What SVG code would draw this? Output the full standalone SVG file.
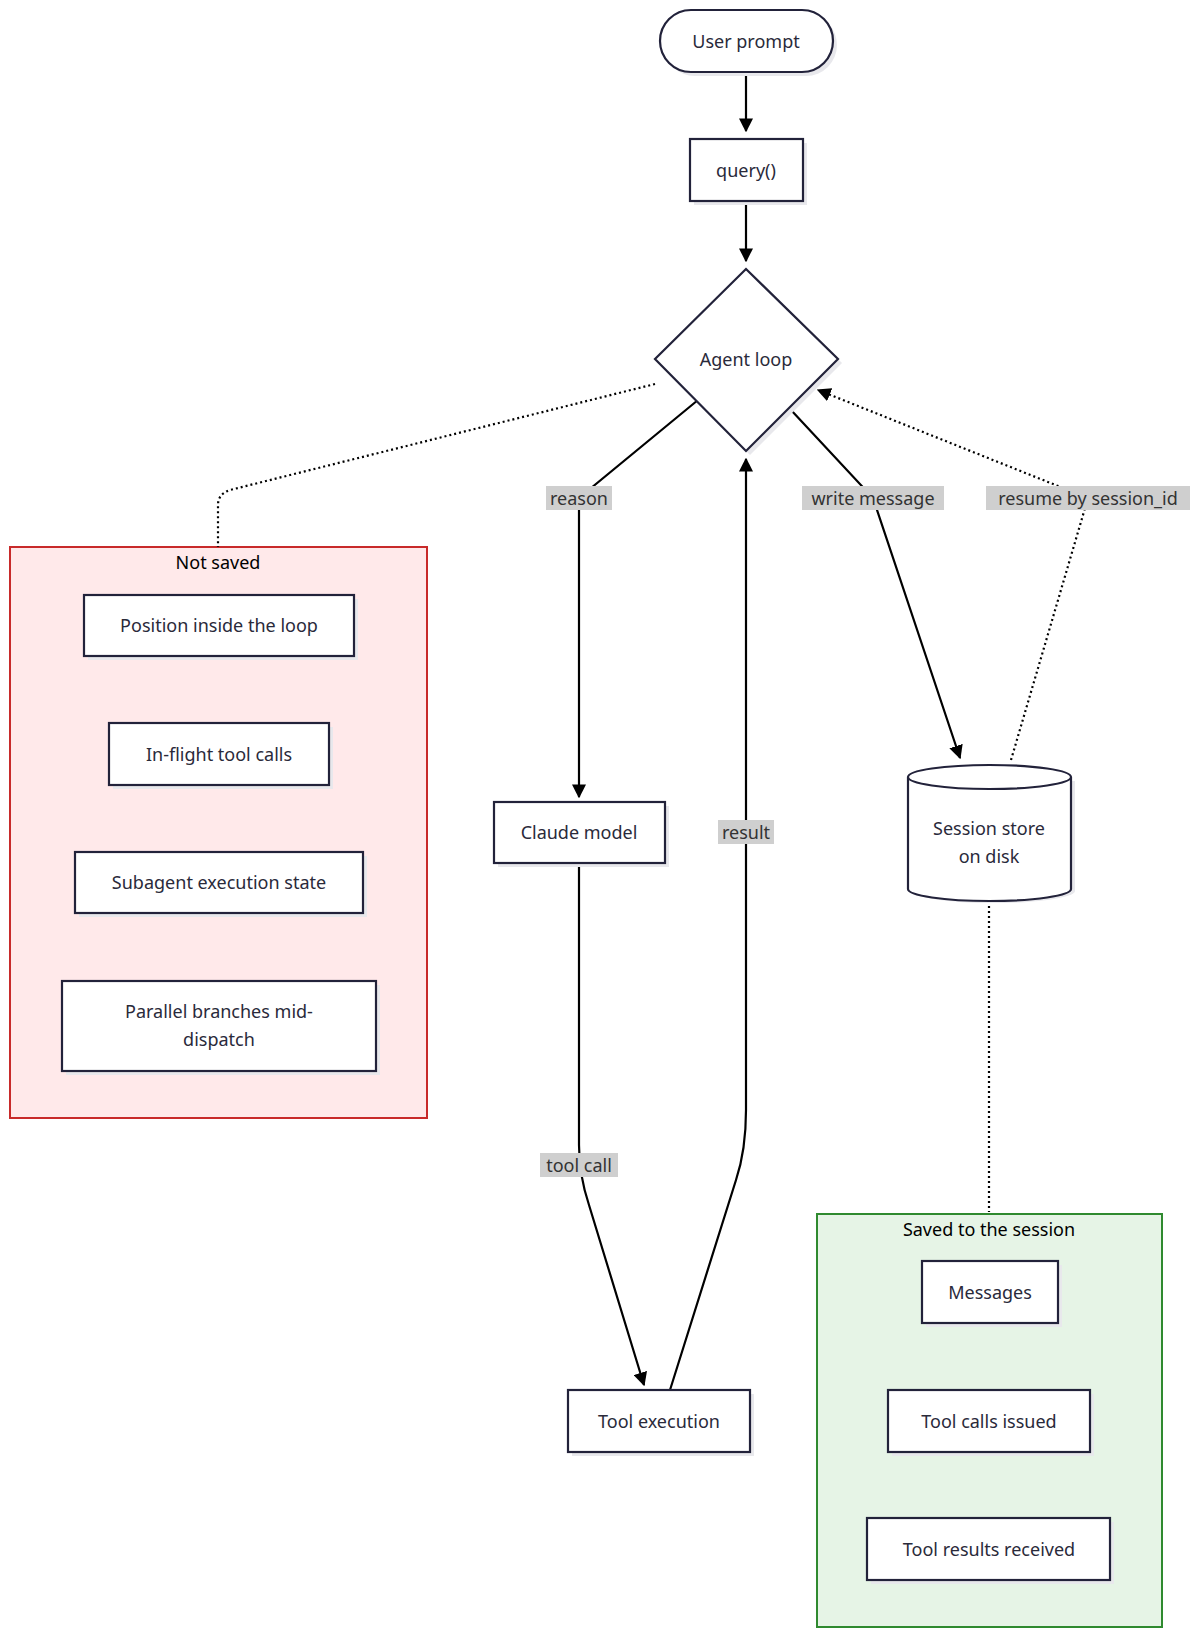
<svg xmlns="http://www.w3.org/2000/svg" width="1200" height="1636" viewBox="0 0 1200 1636">
<style>
text{font-family:"Noto Sans","DejaVu Sans",sans-serif;font-size:18px;fill:#2a2a3a;text-anchor:middle;dominant-baseline:central}
.n{fill:#fff;stroke:#22223a;stroke-width:2.2}
.sh{fill:#e8e8ec}
.e{fill:none;stroke:#000;stroke-width:2.2}
.d{fill:none;stroke:#000;stroke-width:2.2;stroke-dasharray:2 3}
.lb{fill:#cfcfcf}
.lt{fill:#333}
</style>
<defs>
<marker id="a" viewBox="0 0 10 10" refX="9" refY="5" markerWidth="14" markerHeight="14" markerUnits="userSpaceOnUse" orient="auto"><path d="M0,0L10,5L0,10z" fill="#000"/></marker>
</defs>
<g id="notSaved"><rect x="10" y="547" width="417" height="571" fill="#ffe9ea" stroke="#c82a2a" stroke-width="2"/><text x="218" y="562" style="fill:#000">Not saved</text></g>
<g id="saved"><rect x="817" y="1214" width="345" height="413" fill="#e6f4e6" stroke="#2f8a2f" stroke-width="2"/><text x="989" y="1229" style="fill:#000">Saved to the session</text></g>
<g id="edges">
<path class="e" d="M746,72V131" marker-end="url(#a)"/>
<path class="e" d="M746,201V261" marker-end="url(#a)"/>
<path class="e" d="M698,400L579,498V797" marker-end="url(#a)"/>
<path class="e" d="M579,863V1145Q579,1175 589,1205L644,1385" marker-end="url(#a)"/>
<path class="e" d="M670,1390L736,1180Q746,1150 746,1110V459" marker-end="url(#a)"/>
<path class="e" d="M791,410L873,498L960,758" marker-end="url(#a)"/>
<path class="d" d="M1011,760L1088,498L818,390" marker-end="url(#a)"/>
<path class="d" d="M655,384L230,490Q218,494 218,505V547"/>
<path class="d" d="M989,901V1212"/>
</g>
<g id="labels">
<rect class="lb" x="546" y="486" width="66" height="24"/><text class="lt" x="579" y="498">reason</text>
<rect class="lb" x="802" y="486" width="142" height="24"/><text class="lt" x="873" y="498">write message</text>
<rect class="lb" x="986" y="486" width="204" height="24"/><text class="lt" x="1088" y="498">resume by session_id</text>
<rect class="lb" x="718" y="820" width="56" height="24"/><text class="lt" x="746" y="832">result</text>
<rect class="lb" x="540" y="1153" width="78" height="24"/><text class="lt" x="579" y="1165">tool call</text>
</g>
<g id="userPrompt"><rect class="sh" x="664" y="14" width="173" height="62" rx="31"/><rect class="n" x="660" y="10" width="173" height="62" rx="31"/><text x="746" y="41">User prompt</text></g>
<g id="query"><rect class="sh" x="694" y="143" width="113" height="62"/><rect class="n" x="690" y="139" width="113" height="62"/><text x="746" y="170">query()</text></g>
<g id="agentLoop"><path class="sh" d="M750,273L842,363L750,455L659,363z"/><path class="n" d="M746,269L838,359L746,451L655,359z"/><text x="746" y="359">Agent loop</text></g>
<g id="position"><rect class="sh" x="88" y="599" width="270" height="61"/><rect class="n" x="84" y="595" width="270" height="61"/><text x="219" y="625">Position inside the loop</text></g>
<g id="inflight"><rect class="sh" x="113" y="727" width="220" height="62"/><rect class="n" x="109" y="723" width="220" height="62"/><text x="219" y="754">In-flight tool calls</text></g>
<g id="subagent"><rect class="sh" x="79" y="856" width="288" height="61"/><rect class="n" x="75" y="852" width="288" height="61"/><text x="219" y="882">Subagent execution state</text></g>
<g id="parallel"><rect class="sh" x="66" y="985" width="314" height="90"/><rect class="n" x="62" y="981" width="314" height="90"/><text x="219" y="1011">Parallel branches mid-</text><text x="219" y="1039">dispatch</text></g>
<g id="claude"><rect class="sh" x="498" y="806" width="171" height="61"/><rect class="n" x="494" y="802" width="171" height="61"/><text x="579" y="832">Claude model</text></g>
<g id="toolExec"><rect class="sh" x="572" y="1394" width="182" height="62"/><rect class="n" x="568" y="1390" width="182" height="62"/><text x="659" y="1421">Tool execution</text></g>
<g id="session"><path class="sh" d="M912,781V891A81,12 0 0 0 1075,891V781z"/><path class="n" d="M908,777V889A81.5,12 0 0 0 1071,889V777A81.5,12 0 0 0 908,777A81.5,12 0 0 0 1071,777"/><text x="989" y="828">Session store</text><text x="989" y="856">on disk</text></g>
<g id="messages"><rect class="sh" x="926" y="1265" width="136" height="62"/><rect class="n" x="922" y="1261" width="136" height="62"/><text x="990" y="1292">Messages</text></g>
<g id="toolCalls"><rect class="sh" x="892" y="1394" width="202" height="62"/><rect class="n" x="888" y="1390" width="202" height="62"/><text x="989" y="1421">Tool calls issued</text></g>
<g id="toolResults"><rect class="sh" x="871" y="1522" width="243" height="62"/><rect class="n" x="867" y="1518" width="243" height="62"/><text x="989" y="1549">Tool results received</text></g>
</svg>
